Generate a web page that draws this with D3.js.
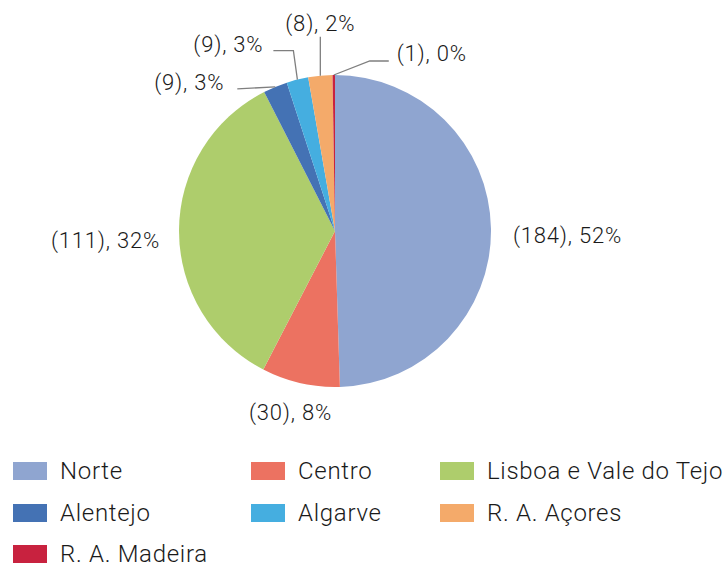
<!DOCTYPE html>
<meta charset="utf-8">
<style>
body { margin: 0; background: #fff; }
text { font-family: "Roboto", "Liberation Sans", sans-serif; font-weight: 300; fill: #1a1a1a; }
</style>
<svg width="728" height="567"></svg>
<script src="https://d3js.org/d3.v7.min.js"></script>
<script>

var regions = ["Norte", "Centro", "Lisboa e Vale do Tejo", "Alentejo", "Algarve", "R. A. Açores", "R. A. Madeira"];
var counts = [184, 30, 111, 9, 9, 8, 1];
var percents = [52, 8, 32, 3, 3, 2, 0];
// slice sizes as drawn in the picture (share of the circle, %)
var sliceShare = [49.5, 8.1, 34.9, 2.5, 2.25, 2.5, 0.25];
var colors = ["#8fa5d0", "#ec7261", "#aecd6c", "#4472b4", "#45aee0", "#f4aa6a", "#c8223f"];

var svg = d3.select("svg");
var cx = 335, cy = 231, radius = 156;

var data = regions.map(function(r, i) {
  return { region: r, count: counts[i], pct: percents[i], share: sliceShare[i], color: colors[i] };
});

var pie = d3.pie().sort(null).value(function(d) { return d.share; });
var arc = d3.arc().innerRadius(0).outerRadius(radius);
var arcs = pie(data);

var g = svg.append("g").attr("transform", "translate(" + cx + "," + cy + ")");

g.selectAll("path")
  .data(arcs)
  .enter().append("path")
    .attr("d", arc)
    .attr("fill", function(d) { return d.data.color; });

function outerPoint(d, r) {
  var a = (d.startAngle + d.endAngle) / 2;
  return [Math.sin(a) * r, -Math.cos(a) * r];
}

// label placement: big slices get a label just outside, small ones a leader line
var layout = [
  { dx: 22, dy: 14, anchor: "start" },
  { dx: -10, dy: 37, anchor: "middle" },
  { dx: -19, dy: 17, anchor: "end" },
  { elbow: [-38, 2], end: [-38, 2], text: [-13, 1], anchor: "end" },
  { elbow: [-4, -29], end: [-24, -29], text: [-10, 1], anchor: "end" },
  { elbow: [0, -39], end: [0, -39], text: [0, -6], anchor: "middle" },
  { elbow: [36, -14], end: [55, -14], text: [8, 0], anchor: "start" }
];

var labels = g.append("g");

arcs.forEach(function(d, i) {
  var L = layout[i];
  var p = outerPoint(d, radius);
  var txt = "(" + d.data.count + "), " + d.data.pct + "%";
  var tx, ty;
  if (L.elbow) {
    var e = [p[0] + L.elbow[0], p[1] + L.elbow[1]];
    var en = [p[0] + L.end[0], p[1] + L.end[1]];
    labels.append("polyline")
      .attr("points", [p, e, en].map(function(q) { return q.join(","); }).join(" "))
      .attr("fill", "none")
      .attr("stroke", "#7f7f7f")
      .attr("stroke-width", 1.3);
    tx = en[0] + L.text[0];
    ty = en[1] + L.text[1];
  } else {
    tx = p[0] + L.dx;
    ty = p[1] + L.dy;
  }
  labels.append("text")
    .attr("x", tx)
    .attr("y", ty)
    .attr("text-anchor", L.anchor)
    .style("font-size", "22px")
    .style("letter-spacing", "0.8px")
    .text(txt);
});

// legend
var colX = [13, 251, 440], rowY = [462, 504, 545];
var legend = svg.append("g");
data.forEach(function(d, i) {
  var x = colX[i % 3], y = rowY[Math.floor(i / 3)];
  var item = legend.append("g").attr("transform", "translate(" + x + "," + y + ")");
  item.append("rect").attr("width", 34).attr("height", 18).attr("fill", d.color);
  item.append("text").attr("x", 47).attr("y", 17)
    .style("font-size", "24px")
    .style("letter-spacing", "0.7px")
    .text(d.region);
});

</script>
